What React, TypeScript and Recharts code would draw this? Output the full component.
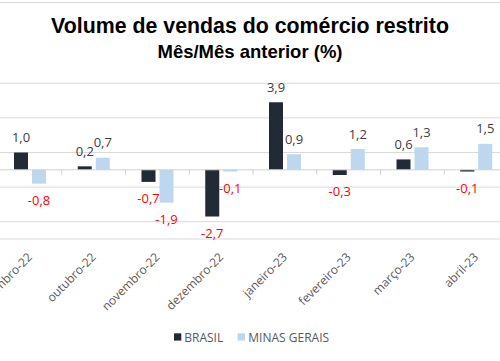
import React from "react";
import { BarChart, Bar, XAxis, YAxis, CartesianGrid, ReferenceLine, LabelList } from "recharts";

// month-over-month retail sales volume (%)
const months = [
  "setembro-22", "outubro-22", "novembro-22", "dezembro-22",
  "janeiro-23", "fevereiro-23", "março-23", "abril-23",
];
const brasil = [1.0, 0.2, -0.7, -2.7, 3.9, -0.3, 0.6, -0.1];
const minasGerais = [-0.8, 0.7, -1.9, -0.1, 0.9, 1.2, 1.3, 1.5];
const yTicks = [-4, -3, -2, -1, 0, 1, 2, 3, 4, 5];

const series = [
  { key: "brasil", name: "BRASIL", color: "#222a35" },
  { key: "mg", name: "MINAS GERAIS", color: "#bdd7ee" },
];

const data = months.map((m, i) => ({ month: m, brasil: brasil[i], mg: minasGerais[i] }));

const fmt = (v: number) => v.toFixed(1).replace(".", ",");
const labelFont = "'Open Sans', 'Noto Sans', sans-serif";

function ValueLabel(props: any) {
  const vb = props.viewBox ?? props;
  const { x, y, width, height } = vb;
  const value = Number(props.value);
  const top = Math.min(y, y + height);
  const bottom = Math.max(y, y + height);
  const cx = x + width / 2;
  const neg = value < 0;
  return (
    <text
      x={cx}
      y={neg ? bottom + 21 : top - 10.5}
      textAnchor="middle"
      fill={neg ? "#ff0000" : "#404040"}
      fontSize={13}
      fontFamily={labelFont}
    >
      {fmt(value)}
    </text>
  );
}

function MonthTick({ x, y, payload }: any) {
  const tx = x + 3;
  const ty = y + 19;
  return (
    <text
      x={tx}
      y={ty}
      transform={`rotate(-45 ${tx} ${ty})`}
      textAnchor="end"
      fill="#595959"
      fontSize={12}
      fontFamily={labelFont}
    >
      {payload.value}
    </text>
  );
}

export default function App() {
  return (
    <div style={{ position: "absolute", left: 0, top: 0, width: 500, height: 361, overflow: "hidden", background: "#fff" }}>
      <BarChart
        width={510}
        height={361}
        data={data}
        margin={{ top: 83.3, right: 0, bottom: 0, left: 0 }}
        barSize={14}
        barGap={4}
        style={{ position: "absolute", left: -2, top: 0 }}
      >
        <CartesianGrid vertical={false} stroke="#d9d9d9" />
        <XAxis
          dataKey="month"
          height={122}
          axisLine={false}
          tickLine={false}
          tickSize={0}
          tickMargin={0}
          interval={0}
          tick={<MonthTick />}
        />
        <YAxis hide domain={[-4, 5]} ticks={yTicks} />
        <ReferenceLine y={0} stroke="#d0d0d0" />
        {months.map((m) => (
          <ReferenceLine
            key={m}
            segment={[{ x: m, y: 0 }, { x: m, y: -0.28 }]}
            position="start"
            stroke="#d0d0d0"
          />
        ))}
        {series.map((s) => (
          <Bar key={s.key} dataKey={s.key} name={s.name} fill={s.color} isAnimationActive={false}>
            <LabelList dataKey={s.key} content={<ValueLabel />} />
          </Bar>
        ))}
      </BarChart>
      <svg width={500} height={361} style={{ position: "absolute", left: 0, top: 0, pointerEvents: "none" }}>
        <line x1={0} x2={500} y1={2.5} y2={2.5} stroke="#d9d9d9" />
        <text x={250} y={33.3} textAnchor="middle" fontFamily="'Liberation Sans', Arial, sans-serif" fontWeight="bold" fontSize={21.33} fill="#000">
          Volume de vendas do comércio restrito
        </text>
        <text x={250} y={58} textAnchor="middle" fontFamily="'Liberation Sans', Arial, sans-serif" fontWeight="bold" fontSize={18.5} fill="#000">
          Mês/Mês anterior (%)
        </text>
        <rect x={174} y={333.3} width={7.3} height={7.3} fill={series[0].color} />
        <text x={184.3} y={341.5} fontFamily={labelFont} fontSize={12} fill="#595959">{series[0].name}</text>
        <rect x={237.7} y={333.3} width={7.3} height={7.3} fill={series[1].color} />
        <text x={248.3} y={341.5} fontFamily={labelFont} fontSize={12} fill="#595959">{series[1].name}</text>
      </svg>
    </div>
  );
}
